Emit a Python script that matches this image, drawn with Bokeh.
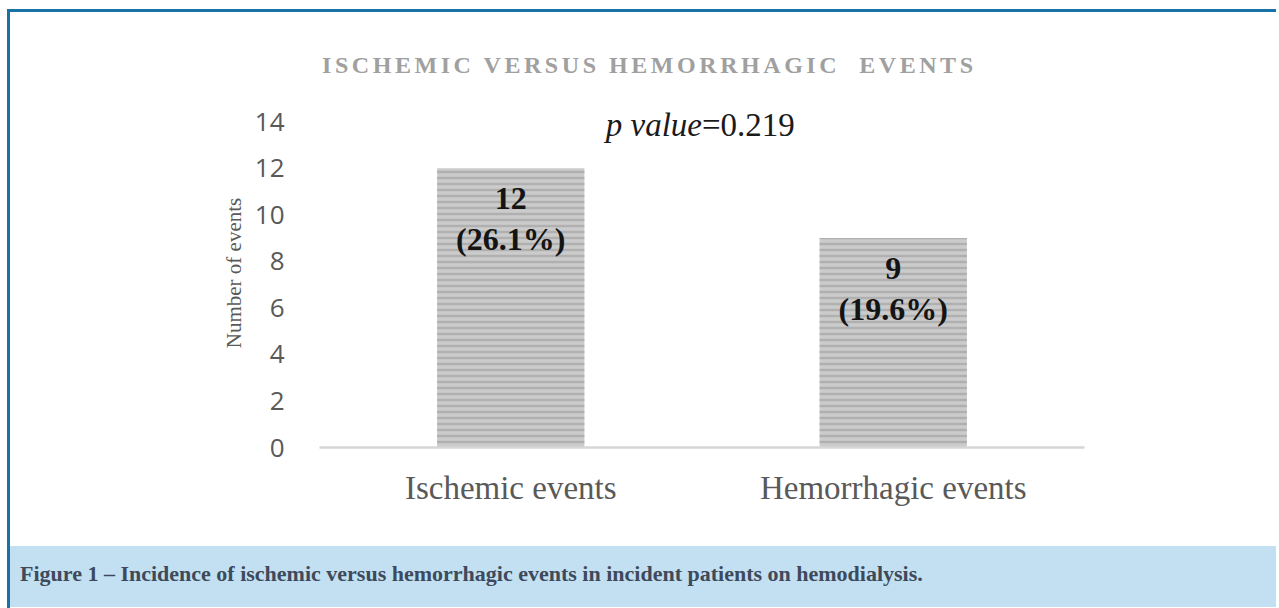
from bokeh.plotting import figure
from bokeh.models import (ColumnDataSource, FixedTicker, LabelSet, Label, Div,
                          Range1d, FactorRange)
from bokeh.layouts import row, column
from bokeh.embed import file_html
from bokeh.resources import INLINE

# ---- data ----
categories = ["Ischemic events", "Hemorrhagic events"]
counts = [12, 9]
percents = ["(26.1%)", "(19.6%)"]
y_ticks = [0, 2, 4, 6, 8, 10, 12, 14]
title_text = "ISCHEMIC VERSUS HEMORRHAGIC&nbsp; EVENTS"
p_label = "p value"
p_text = "=0.219"
caption_text = "Figure 1 – Incidence of ischemic versus hemorrhagic events in incident patients on hemodialysis."

BLUE = "#1872a6"
GRAY_TXT = "#595959"

src = ColumnDataSource(dict(
    cats=categories,
    counts=counts,
    count_txt=[str(c) for c in counts],
    pct=percents,
))

p = figure(x_range=FactorRange(*categories), y_range=Range1d(0, 15),
           width=1260, height=456, output_backend="svg", toolbar_location=None,
           min_border_left=309, min_border_right=186, min_border_top=8,
           min_border_bottom=99, background_fill_color="white",
           border_fill_color="white", margin=0)
p.outline_line_color = None
p.grid.visible = False

p.vbar(x="cats", top="counts", width=0.385, source=src,
       fill_color="#cbcbcb", line_color=None,
       hatch_pattern="horizontal_line", hatch_color="#b0b0b0",
       hatch_scale=6, hatch_weight=2.5)

# y axis
p.yaxis.ticker = FixedTicker(ticks=y_ticks)
p.yaxis.axis_line_color = None
p.yaxis.major_tick_line_color = None
p.yaxis.minor_tick_line_color = None
p.yaxis.major_label_text_font = "Open Sans"
p.yaxis.major_label_text_font_size = "26px"
p.yaxis.major_label_text_color = GRAY_TXT
p.yaxis.major_label_standoff = 29
p.yaxis.axis_label = "Number of events"
p.yaxis.axis_label_text_font = "Liberation Serif"
p.yaxis.axis_label_text_font_size = "21px"
p.yaxis.axis_label_text_font_style = "normal"
p.yaxis.axis_label_text_color = GRAY_TXT
p.yaxis.axis_label_standoff = 6

# x axis
p.xaxis.axis_line_color = "#d6d6d6"
p.xaxis.axis_line_width = 2.5
p.xaxis.major_tick_line_color = None
p.xaxis.minor_tick_line_color = None
p.xaxis.major_label_text_font = "Liberation Serif"
p.xaxis.major_label_text_font_size = "33px"
p.xaxis.major_label_text_color = GRAY_TXT
p.xaxis.major_label_standoff = 16

# bar labels
for field, off in (("count_txt", -30), ("pct", -71)):
    p.add_layout(LabelSet(x="cats", y="counts", text=field, source=src,
                          y_offset=off, text_align="center",
                          text_baseline="middle",
                          text_font="Liberation Serif",
                          text_font_style="bold",
                          text_font_size="32px", text_color="#141414"))

# p value
p.add_layout(Label(x=1.0, y=14, text=p_label, text_align="right",
                   text_baseline="middle", y_offset=-3,
                   text_font="Liberation Serif", text_font_style="italic",
                   text_font_size="33px", text_color="#1a1a1a"))
p.add_layout(Label(x=1.0, y=14, text=p_text, text_align="left",
                   text_baseline="middle", y_offset=-3,
                   text_font="Liberation Serif", text_font_style="normal",
                   text_font_size="33px", text_color="#1a1a1a"))

title_div = Div(
    text=('<div style="font-family: \'Liberation Serif\'; font-weight: bold; '
          'font-size: 24px; letter-spacing: 3.55px; color: #a0a0a0; '
          'padding-left: 312px; padding-top: 34px; line-height: 38px; '
          'white-space: nowrap;">' + title_text + '</div>'),
    width=1260, height=78, margin=0)

caption_div = Div(
    text=('<div style="font-family: \'Liberation Serif\'; font-weight: bold; '
          'font-size: 22px; color: #3e4a5b; line-height: 56px; '
          'padding-left: 10px; white-space: nowrap;">' + caption_text + '</div>'),
    width=1266, height=61, margin=0, styles={"background-color": "#c2e0f2"})

top_bar = Div(text="", width=1266, height=3, margin=0,
              styles={"background-color": BLUE})
left_bar = Div(text="", width=3, height=599, margin=0,
               styles={"background-color": BLUE})

layout = row(left_bar, column(top_bar, title_div, p, caption_div, spacing=0, margin=0),
             spacing=0, margin=(9, 0, 0, 7))

open("out.html", "w").write(file_html(layout, INLINE))
